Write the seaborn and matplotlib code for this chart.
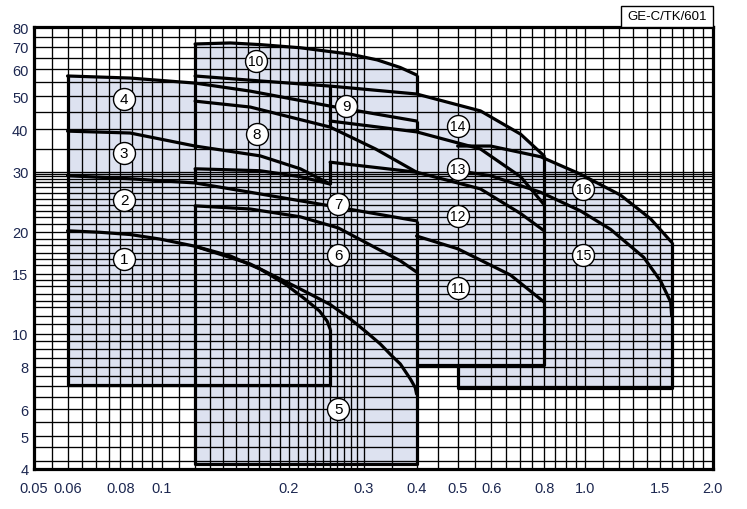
import numpy as np
import matplotlib
matplotlib.use("Agg")
import matplotlib.pyplot as plt
from matplotlib.patches import Rectangle
import seaborn as sns

sns.set_style("white")
plt.rcParams['font.family'] = ['Liberation Sans', 'DejaVu Sans']

# ---------------- data (Q in m3/min, H in m) ----------------
x_ticks = [0.05, 0.06, 0.08, 0.1, 0.2, 0.3, 0.4, 0.5, 0.6, 0.8, 1.0, 1.5, 2.0]
x_tick_labels = ["0.05", "0.06", "0.08", "0.1", "0.2", "0.3", "0.4", "0.5", "0.6", "0.8", "1.0", "1.5", "2.0"]
y_ticks = [4, 5, 6, 8, 10, 15, 20, 30, 40, 50, 60, 70, 80]
y_tick_labels = ["4", "5", "6", "8", "10", "15", "20", "30", "40", "50", "60", "70", "80"]

# fill outlines of the model groups
groupA_q = [0.06, 0.25, 0.25, 0.12, 0.12, 0.0843, 0.06]
groupA_h = [7.07, 7.07, 10.33, 18.1, 54.7, 56.6, 57.4]
groupB_q = [0.12, 0.4, 0.4, 0.366, 0.323, 0.28, 0.2126, 0.171, 0.1453, 0.12]
groupB_h = [4.14, 4.14, 57.8, 60.8, 64.0, 66.5, 69.5, 71.0, 71.8, 71.3]
groupD_q = [0.4, 0.8, 0.8, 0.704, 0.566, 0.4]
groupD_h = [8.09, 8.09, 33.4, 38.7, 45.3, 50.8]
groupE_q = [0.5, 1.6, 1.6, 1.427, 1.212, 0.975, 0.785, 0.598, 0.5]
groupE_h = [6.93, 6.93, 18.6, 21.8, 25.6, 29.5, 33.2, 35.7, 35.7]

# boundary curves (head vs flow) and range edges
curves = {
    "c1": ([0.06, 0.0716, 0.0843, 0.0993, 0.12, 0.1453, 0.171, 0.196, 0.218, 0.236, 0.246, 0.25],
           [20.1, 19.9, 19.6, 19.0, 18.1, 16.95, 15.5, 14.0, 12.66, 11.67, 10.9, 10.33]),
    "c2": ([0.06, 0.0843, 0.12, 0.162, 0.25, 0.4],
           [29.2, 28.6, 27.8, 26.1, 23.8, 21.5]),
    "c3": ([0.06, 0.0843, 0.12, 0.171, 0.2126, 0.25],
           [39.5, 39.0, 35.7, 33.4, 30.6, 27.6]),
    "c4": ([0.06, 0.0843, 0.12, 0.162, 0.25, 0.4],
           [57.4, 56.6, 54.7, 51.8, 46.8, 42.3]),
    "c5": ([0.12, 0.162, 0.2126, 0.25, 0.279, 0.305, 0.3285, 0.35, 0.3662, 0.3868, 0.397, 0.4],
           [18.1, 16.05, 13.55, 12.2, 11.06, 10.1, 9.33, 8.6, 8.15, 7.36, 6.95, 6.65]),
    "c6": ([0.12, 0.162, 0.2126, 0.2613, 0.3232, 0.3662, 0.4],
           [23.8, 23.3, 22.1, 20.5, 17.8, 16.4, 15.2]),
    "c7": ([0.12, 0.171, 0.2126, 0.25],
           [30.6, 30.2, 29.0, 27.6]),
    "c8": ([0.12, 0.162, 0.25, 0.32, 0.4],
           [48.4, 46.5, 40.6, 35.0, 29.9]),
    "c9": ([0.25, 0.4, 0.566, 0.704, 0.8],
           [42.3, 39.3, 35.0, 29.0, 24.0]),
    "c10": ([0.12, 0.1453, 0.171, 0.2126, 0.28, 0.323, 0.366, 0.4],
            [71.3, 71.8, 71.0, 69.5, 66.5, 64.0, 60.8, 57.8]),
    "c10b": ([0.12, 0.171, 0.25, 0.4, 0.566, 0.704, 0.8],
             [57.4, 55.5, 53.6, 50.8, 45.3, 38.7, 33.4]),
    "c13": ([0.25, 0.4, 0.566, 0.704, 0.8],
            [32.0, 29.9, 26.7, 22.6, 20.1]),
    "c11": ([0.4, 0.5, 0.666, 0.8],
            [19.4, 17.8, 14.9, 12.4]),
    "c16": ([0.5, 0.598, 0.785, 0.975, 1.212, 1.427, 1.6],
            [35.7, 35.7, 33.2, 29.5, 25.6, 21.8, 18.6]),
    "c15": ([0.5, 0.598, 0.785, 0.975, 1.148, 1.374, 1.507, 1.592, 1.6],
            [30.2, 29.2, 26.1, 23.0, 20.3, 16.8, 14.3, 12.4, 11.28]),
    "bottomA": ([0.06, 0.25], [7.07, 7.07]),
    "bottomB": ([0.12, 0.4], [4.14, 4.14]),
    "bottomD": ([0.4, 0.8], [8.09, 8.09]),
    "bottomE": ([0.5, 1.6], [6.93, 6.93]),
}
# vertical range edges: flow, lower head, upper head
edge_q = [0.06, 0.25, 0.25, 0.25, 0.12, 0.12, 0.12, 0.4, 0.4, 0.4, 0.8, 0.5, 1.6]
edge_lo = [7.07, 7.07, 27.6, 40.6, 4.14, 28.0, 35.0, 4.14, 39.3, 50.8, 8.09, 6.93, 6.93]
edge_hi = [57.4, 10.33, 32.0, 53.6, 23.8, 30.6, 71.3, 21.5, 42.3, 57.8, 33.4, 8.09, 18.6]

label_ids = ["1", "2", "3", "4", "5", "6", "7", "8", "9", "10", "11", "12", "13", "14", "15", "16"]
label_q = [0.0816, 0.0816, 0.0816, 0.0816, 0.2613, 0.2613, 0.2613, 0.168, 0.273, 0.167, 0.5, 0.5, 0.5, 0.5, 0.99, 0.99]
label_h = [16.6, 24.8, 34.1, 49.1, 6.0, 17.06, 24.1, 38.7, 46.8, 63.6, 13.6, 22.2, 30.6, 40.9, 17.06, 26.7]

# grid positions
grid_x = list(np.round(np.arange(0.055, 0.1, 0.005), 4)) + list(np.round(np.arange(0.1, 0.3, 0.01), 3)) + \
         [0.3, 0.35] + list(np.round(np.arange(0.4, 1.0, 0.05), 3)) + list(np.round(np.arange(1.0, 2.0, 0.1), 2))
grid_y = [4.23, 4.63, 5.0, 5.5, 6.0, 6.5, 7.0, 7.5, 8.0, 8.5, 9.0, 9.5,
          10.0, 10.7, 11.3, 12.0, 12.5, 13.1, 13.8, 14.4, 15.0, 15.9, 16.6, 17.3, 18.2, 19.0,
          20.0, 21.0, 22.0, 23.0, 24.0, 25.0, 26.0, 27.0, 28.0, 28.6, 29.2, 29.6, 30.0,
          35, 40, 45, 50, 55, 60, 65, 70, 75]

# ---------------- figure ----------------
fig = plt.figure(figsize=(7.47, 5.10), dpi=100)
ax = fig.add_axes([34 / 747, 40 / 510, (712.7 - 34) / 747, (470 - 28) / 510])
ax.set_xscale("log")
ax.set_yscale("log")
ax.set_xlim(0.05, 2.0)
ax.set_ylim(4, 80)

fill_col = "#dde2f0"
for gq, gh in [(groupA_q, groupA_h), (groupB_q, groupB_h), (groupD_q, groupD_h), (groupE_q, groupE_h)]:
    ax.fill(gq, gh, color=fill_col, lw=0, zorder=1)

for g in grid_x:
    ax.axvline(g, color="black", lw=0.95, zorder=2)
for g in grid_y:
    ax.axhline(g, color="black", lw=0.95, zorder=2)

for name, (q, h) in curves.items():
    sns.lineplot(x=q, y=h, sort=False, estimator=None, color="black", lw=2.3, ax=ax, zorder=3)
ax.vlines(edge_q, edge_lo, edge_hi, color="black", lw=2.3, zorder=3)

for lid, q, h in zip(label_ids, label_q, label_h):
    ax.scatter([q], [h], s=250, facecolor="white", edgecolor="black", linewidth=1.0, zorder=4)
    ax.text(q, h, lid, ha="center", va="center", fontsize=11 if len(lid) == 1 else 10,
            family=["Liberation Sans Narrow", "Liberation Sans", "DejaVu Sans"],
            color="black", zorder=5)

for s in ax.spines.values():
    s.set_linewidth(2.3)
    s.set_color("black")
    s.set_zorder(6)

ax.set_xticks(x_ticks)
ax.set_xticklabels(x_tick_labels)
ax.set_yticks(y_ticks)
ax.set_yticklabels(y_tick_labels)
ax.xaxis.set_minor_locator(matplotlib.ticker.NullLocator())
ax.yaxis.set_minor_locator(matplotlib.ticker.NullLocator())
ax.tick_params(axis="both", length=0, labelsize=10.5, labelcolor="#1c2750")
ax.tick_params(axis="x", pad=9)
ax.tick_params(axis="y", pad=4)
ax.set_xlabel("")
ax.set_ylabel("")

fig.patches.append(Rectangle((621 / 747, 1 - 28 / 510), 92 / 747, 21 / 510, transform=fig.transFigure,
                             fc="white", ec="black", lw=1.0, zorder=10))
fig.text(667 / 747, 1 - 17.5 / 510, "GE-C/TK/601", ha="center", va="center", fontsize=9.5, color="black", zorder=11)

fig.savefig("out.png", dpi=100)
